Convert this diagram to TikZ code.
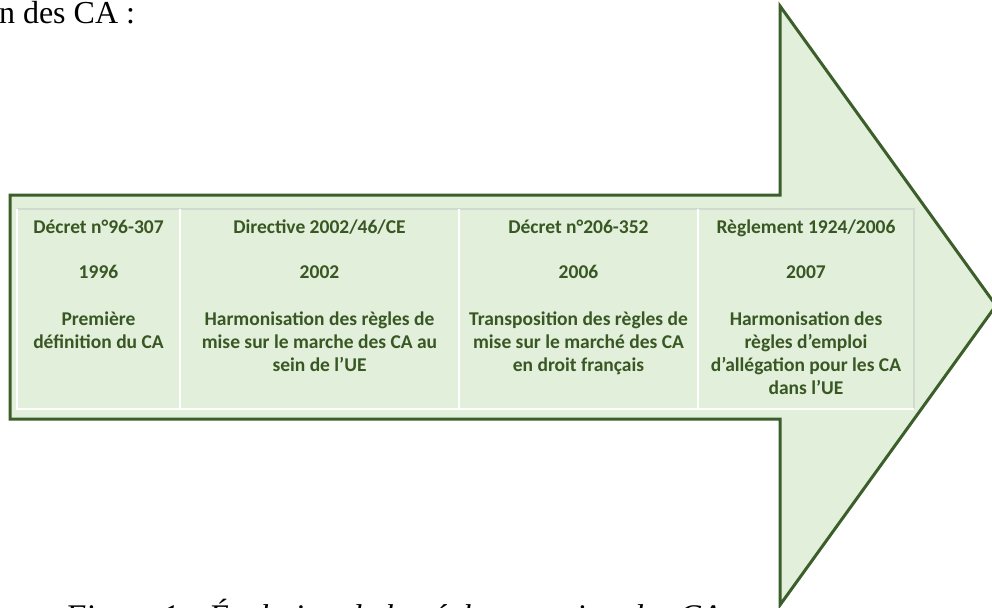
\documentclass[tikz,border=0pt]{standalone}
\usepackage{fontspec}
\setmainfont{Liberation Serif}
\newfontfamily\calib{Carlito}
\definecolor{arrowfill}{HTML}{E2EFDA}
\definecolor{arrowline}{HTML}{3B5E2A}
\definecolor{txtgreen}{HTML}{385723}
\definecolor{gridgray}{HTML}{D2D9CE}
\newcommand\cellstack[1]{\begin{tabular}[t]{@{}c@{}}#1\end{tabular}}
\begin{document}
\begin{tikzpicture}[x=1pt,y=-1pt,
  every node/.style={inner sep=0pt, outer sep=0pt},
  lbl/.style={font=\calib\bfseries\fontsize{19.5}{23}\selectfont, text=txtgreen, anchor=base},
  arrowshape/.style={draw=arrowline, fill=arrowfill, line width=3pt, line join=miter},
  gridwhite/.style={draw=white, line width=1.8pt},
  gridshade/.style={draw=gridgray, line width=1.2pt}]
\useasboundingbox (0,0) rectangle (992,607);
\fill[white] (0,0) rectangle (992,607);
% big arrow
\draw[arrowshape] (10,195) -- (780,195) -- (780,6) -- (996,305.5) -- (780,605) -- (780,419) -- (10,419) -- cycle;
% table grid
\coordinate (tl) at (17,209);
\coordinate (tr) at (914,209);
\coordinate (bl) at (17,409);
\coordinate (br) at (914,409);
\draw[gridshade] (tl) -- (tr) -- (br);
\draw[gridwhite] (tl) -- (bl) -- (br);
\draw[gridwhite] (180,209) -- (180,409);
\draw[gridwhite] (459,209) -- (459,409);
\draw[gridwhite] (698,209) -- (698,409);
% titles
\node[lbl] (t1) at (98.5,233) {Décret n°96-307};
\node[lbl] (t2) at (319.5,233) {Directive 2002/46/CE};
\node[lbl] (t3) at (578.5,233) {Décret n°206-352};
\node[lbl] (t4) at (806,233) {Règlement 1924/2006};
% years
\node[lbl] (y1) at (98.5,278) {1996};
\node[lbl] (y2) at (319.5,278) {2002};
\node[lbl] (y3) at (578.5,278) {2006};
\node[lbl] (y4) at (806,278) {2007};
% descriptions
\node[lbl] (d1) at (98.5,325) {\cellstack{Première\\définition du CA}};
\node[lbl] (d2) at (319.5,325) {\cellstack{Harmonisation des règles de\\mise sur le marche des CA au\\sein de l’UE}};
\node[lbl] (d3) at (578.5,325) {\cellstack{Transposition des règles de\\mise sur le marché des CA\\en droit français}};
\node[lbl] (d4) at (806,325) {\cellstack{Harmonisation des\\règles d’emploi\\d’allégation pour les CA\\dans l’UE}};
% surrounding document text
\node[font=\fontsize{32}{38}\selectfont, anchor=base west] (head) at (-1,24) {n des CA :};
\node[font=\itshape\fontsize{33}{40}\selectfont, anchor=base west] (cap) at (65,627) {Figure 1 : Évolution de la réglementation des CA};
\end{tikzpicture}
\end{document}
